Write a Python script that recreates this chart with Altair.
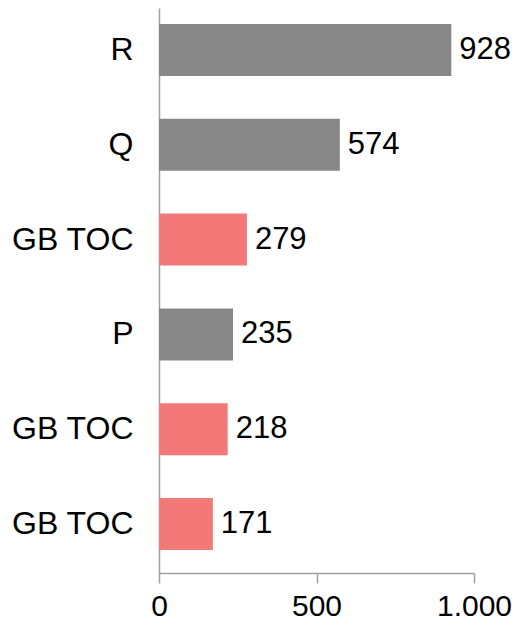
import altair as alt
import pandas as pd

keys = ["k1", "k2", "k3", "k4", "k5", "k6"]
labels = ["R", "Q", "GB TOC", "P", "GB TOC", "GB TOC"]
values = [928, 574, 279, 235, 218, 171]
groups = ["other", "other", "gb", "other", "gb", "gb"]

df = pd.DataFrame({"key": keys, "label": labels, "value": values, "group": groups})
label_map = "{" + ",".join(f"'{k}':'{l}'" for k, l in zip(keys, labels)) + "}"

FONT = "Liberation Sans"
FS = 32

y_enc = alt.Y(
    "key:N",
    sort=keys,
    scale=alt.Scale(paddingInner=0.4515, paddingOuter=0.2057, align=0.41),
    axis=alt.Axis(
        title=None,
        labelExpr=f"{label_map}[datum.value]",
        ticks=False,
        labelPadding=26,
        labelFontSize=FS,
        labelFont=FONT,
        labelColor="#000000",
        domainColor="#a0a0a0",
        domainWidth=1.5,
        grid=False,
    ),
)

x_enc = alt.X(
    "value:Q",
    scale=alt.Scale(domain=[0, 1000], nice=False),
    axis=alt.Axis(
        title=None,
        values=[0, 500, 1000],
        labelExpr="replace(format(datum.value, ','), ',', '.')",
        labelFontSize=30,
        labelFont=FONT,
        labelColor="#000000",
        labelPadding=8,
        tickSize=10,
        tickColor="#a0a0a0",
        tickWidth=1.5,
        domainColor="#a0a0a0",
        domainWidth=1.5,
        grid=False,
        labelFlush=False,
    ),
)

bars = alt.Chart(df).mark_bar().encode(
    y=y_enc,
    x=x_enc,
    color=alt.Color(
        "group:N",
        scale=alt.Scale(domain=["other", "gb"], range=["#878787", "#f37878"]),
        legend=None,
    ),
)

text = alt.Chart(df).mark_text(
    align="left", baseline="middle", dx=8, fontSize=31, font=FONT, color="#000000"
).encode(
    y=alt.Y("key:N", sort=keys),
    x=alt.X("value:Q"),
    text="value:Q",
)

chart = (
    alt.layer(bars, text)
    .properties(
        width=315,
        height=565,
        background="white",
        autosize=alt.AutoSizeParams(type="none"),
        padding={"left": 151, "top": 0, "right": 38, "bottom": 52},
    )
    .configure_view(strokeWidth=0)
    .configure_axis(grid=False)
)

chart.save("out.html", embed_options={"renderer": "svg", "actions": False})
